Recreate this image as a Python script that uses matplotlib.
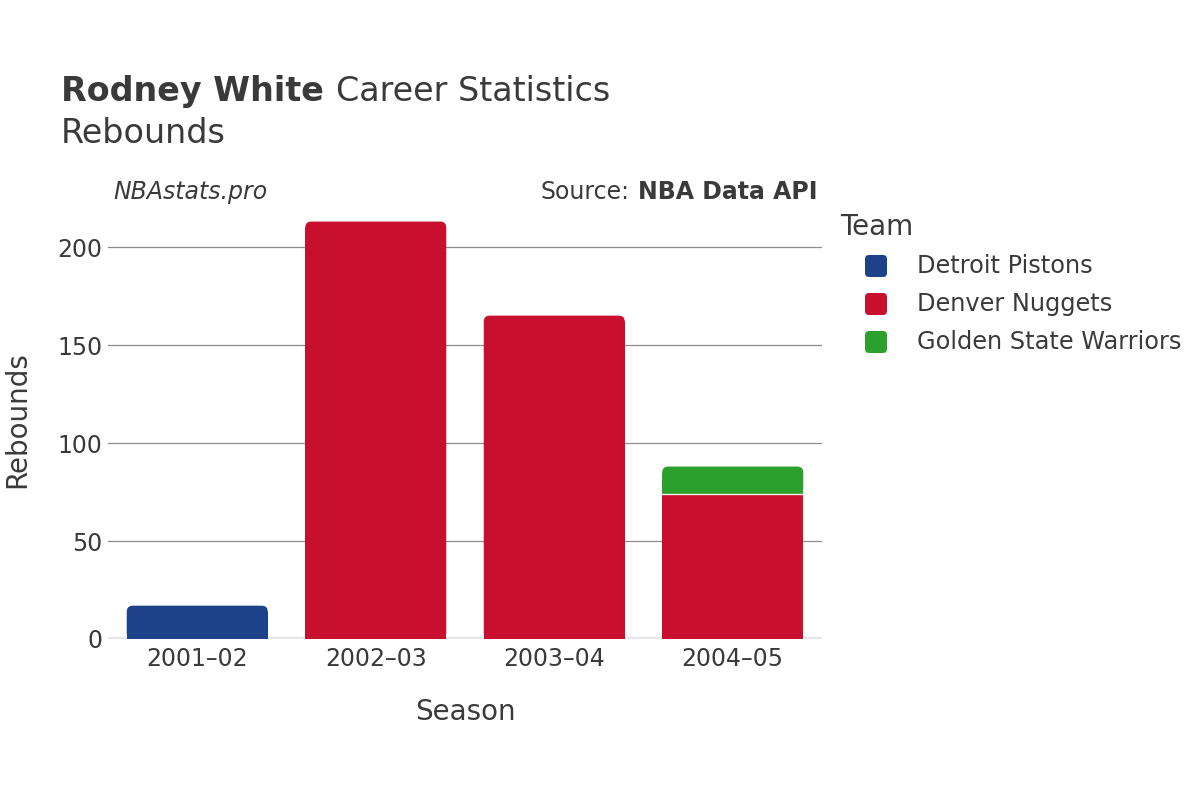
import matplotlib
matplotlib.use("Agg")
import matplotlib.pyplot as plt
from matplotlib.patches import FancyBboxPatch, Rectangle
import numpy as np

plt.rcParams["font.family"] = ["DejaVu Sans"]

INK = "#3a3a3a"

seasons = ["2001\u201302", "2002\u201303", "2003\u201304", "2004\u201305"]
teams = ["Detroit Pistons", "Denver Nuggets", "Golden State Warriors"]
team_colors = ["#1d428a", "#c8102e", "#2ca02c"]
# rebounds per team per season (0 = did not play for that team)
detroit = [17, 0, 0, 0]
denver = [0, 213, 165, 74]
golden_state = [0, 0, 0, 14]
values = [detroit, denver, golden_state]

W, H = 1200, 800
fig = plt.figure(figsize=(12, 8), dpi=100)
ax_box = [108 / W, 1 - 639 / H, 714 / W, 439 / H]
ax = fig.add_axes(ax_box)

x = np.arange(len(seasons))
width = 0.79
ymax = 224
ax.set_xlim(-0.5, len(seasons) - 0.5)
ax.set_ylim(0, ymax)

# pixel scale for rounded corners
px_x = ax_box[2] * W / len(seasons)
px_y = ax_box[3] * H / ymax
r_x = 6 / px_x
aspect = px_x / px_y

tops = np.zeros(len(seasons))
last_team = [max(i for i in range(len(teams)) if values[i][j] > 0) for j in range(len(seasons))]
for ti, (vals, col) in enumerate(zip(values, team_colors)):
    for j, v in enumerate(vals):
        if v <= 0:
            continue
        b = tops[j]
        left = x[j] - width / 2
        if last_team[j] == ti:
            ry = r_x * aspect
            ax.add_patch(FancyBboxPatch((left, b), width, v,
                                        boxstyle=f"round,pad=0,rounding_size={r_x}",
                                        mutation_aspect=aspect,
                                        facecolor=col, edgecolor="none", zorder=3))
            ax.add_patch(Rectangle((left, b), width, max(v - ry, 0),
                                   facecolor=col, edgecolor="none", zorder=3))
        else:
            ax.add_patch(Rectangle((left, b), width, v,
                                   facecolor=col, edgecolor="none", zorder=3))
        if b > 0:
            ax.plot([left, left + width], [b, b], color="#f0f0f0", lw=1, zorder=4)
        tops[j] += v

ax.set_yticks([0, 50, 100, 150, 200])
ax.yaxis.grid(True, color="#8c8c8c", linewidth=0.9)
ax.set_axisbelow(True)
ax.axhline(0, color="#e6e6ea", linewidth=3, zorder=2)
ax.set_xticks(x)
ax.set_xticklabels(seasons)
ax.tick_params(axis="both", length=0, labelsize=17, labelcolor=INK)
ax.tick_params(axis="y", pad=4)
ax.tick_params(axis="x", pad=6)
for s in ax.spines.values():
    s.set_visible(False)

ax.set_xlabel("Season", fontsize=20, color=INK, labelpad=19)
fig.text(17 / W, 1 - 420 / H, "Rebounds", rotation=90, fontsize=20, color=INK,
         ha="center", va="center")

# title
renderer = fig.canvas.get_renderer()
t1 = fig.text(61 / W, 1 - 101 / H, "Rodney White", fontsize=24, fontweight="bold",
              color=INK, ha="left", va="baseline")
bb = t1.get_window_extent(renderer)
fig.text((bb.x1 + 12) / W, 1 - 101 / H, "Career Statistics", fontsize=24,
         color=INK, ha="left", va="baseline")
fig.text(61 / W, 1 - 143 / H, "Rebounds", fontsize=24, color=INK,
         ha="left", va="baseline")

fig.text(113 / W, 1 - 192 / H, "NBAstats.pro", fontsize=17, style="italic",
         color=INK, ha="left", va="center")
s2 = fig.text(818 / W, 1 - 192 / H, "NBA Data API", fontsize=17,
              fontweight="bold", color=INK, ha="right", va="center")
bb2 = s2.get_window_extent(renderer)
fig.text((bb2.x0 - 9) / W, 1 - 192 / H, "Source:", fontsize=17,
         color=INK, ha="right", va="center")

# legend
fig.text(840 / W, 1 - 227 / H, "Team", fontsize=20, color=INK,
         ha="left", va="center")
msz = 22
for k, (name, col) in enumerate(zip(teams, team_colors)):
    cy = 266 + 38 * k
    fig.patches.append(FancyBboxPatch(((876 - msz / 2) / W, 1 - (cy + msz / 2) / H),
                                      msz / W, msz / H,
                                      boxstyle=f"round,pad=0,rounding_size={4 / W}",
                                      mutation_aspect=W / H,
                                      transform=fig.transFigure,
                                      facecolor=col, edgecolor="none"))
    fig.text(917 / W, 1 - cy / H, name, fontsize=17.3, color=INK,
             ha="left", va="center")

fig.savefig("out.png", dpi=100)
